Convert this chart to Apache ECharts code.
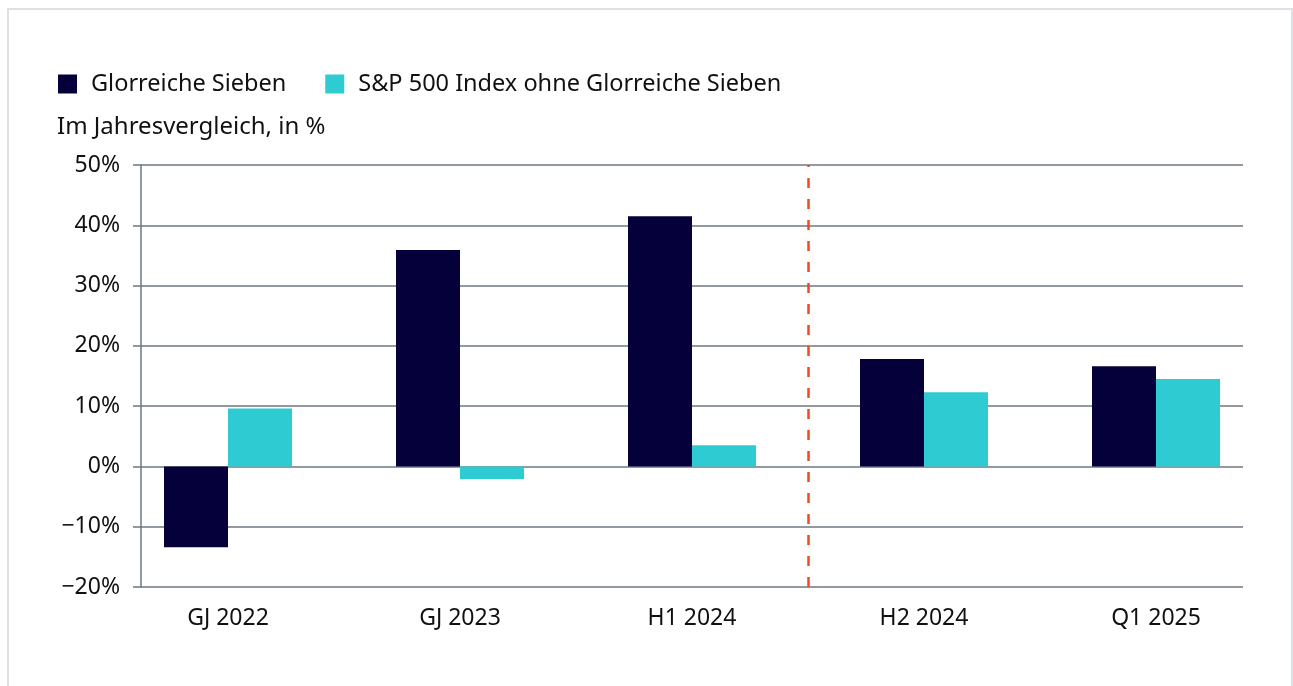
<!DOCTYPE html>
<html>
<head>
<meta charset="utf-8">
<script src="https://cdn.jsdelivr.net/npm/echarts@6/dist/echarts.min.js"></script>
<style>
  html, body { margin: 0; padding: 0; background: #fff; }
  #chart { width: 1293px; height: 686px; }
</style>
</head>
<body>
<div id="chart"></div>
<script>
var categories = ['GJ 2022', 'GJ 2023', 'H1 2024', 'H2 2024', 'Q1 2025']
var seriesNames = ['Glorreiche Sieben', 'S&P 500 Index ohne Glorreiche Sieben']
var mag7 = [-13.4, 35.9, 41.5, 17.8, 16.6]
var rest = [9.6, -2.1, 3.5, 12.3, 14.5]
var yMin = -20
var yMax = 50
var yStep = 10
var dividerAt = 3 // Grenze zwischen H1 2024 und H2 2024

var font = 'Noto Sans'
var textColor = '#111111'
var gridColor = '#6e7782'

var chart = echarts.init(document.getElementById('chart'))

function pct(v) {
	return v < 0 ? '\u2212' + Math.abs(v) + '%' : v + '%'
}

var option = {
	animation: false,
	textStyle: { fontFamily: font },
	graphic: [{
		type: 'rect',
		shape: { x: 8, y: 9, width: 1284, height: 700 },
		style: { fill: 'none', stroke: '#dde1e5', lineWidth: 2 },
		silent: true
	}],
	title: {
		text: 'Im Jahresvergleich, in %',
		left: 57,
		top: 115,
		padding: 0,
		textStyle: { fontFamily: font, fontSize: 24, fontWeight: 'normal', color: textColor }
	},
	legend: {
		left: 58,
		top: 72,
		padding: 0,
		itemWidth: 19,
		itemHeight: 19,
		itemGap: 39,
		icon: 'rect',
		data: seriesNames,
		textStyle: { fontFamily: font, fontSize: 23.5, color: textColor, padding: [0, 0, 0, 9] }
	},
	grid: [
		{ left: 112, right: 21, top: 165, bottom: 99 },
		{ left: 141, right: 50, top: 165, bottom: 99 }
	],
	xAxis: [{
		type: 'category',
		gridIndex: 0,
		data: categories,
		axisLine: { show: false },
		axisTick: { show: false },
		axisLabel: { fontFamily: font, fontSize: 23, color: textColor, margin: 20 }
	}, {
		type: 'value',
		gridIndex: 0,
		min: 0,
		max: categories.length,
		show: false
	}, {
		type: 'value',
		gridIndex: 1,
		show: false
	}],
	yAxis: [{
		type: 'value',
		gridIndex: 0,
		min: yMin,
		max: yMax,
		interval: yStep,
		show: false
	}, {
		type: 'value',
		gridIndex: 1,
		min: yMin,
		max: yMax,
		interval: yStep,
		axisLine: { show: true, lineStyle: { color: gridColor, width: 1.5 } },
		axisTick: { show: true, length: 8, lineStyle: { color: gridColor, width: 1.5 } },
		splitLine: { show: true, lineStyle: { color: gridColor, width: 1.5 } },
		axisLabel: { fontFamily: font, fontSize: 23, color: textColor, margin: 21, formatter: pct }
	}],
	series: [{
		name: seriesNames[0],
		type: 'bar',
		xAxisIndex: 0,
		yAxisIndex: 0,
		data: mag7,
		barWidth: 64,
		barGap: '0%',
		itemStyle: { color: '#05003a' }
	}, {
		name: seriesNames[1],
		type: 'bar',
		xAxisIndex: 0,
		yAxisIndex: 0,
		data: rest,
		barWidth: 64,
		barGap: '0%',
		itemStyle: { color: '#2ecbd3' }
	}, {
		type: 'line',
		xAxisIndex: 1,
		yAxisIndex: 0,
		data: [],
		markLine: {
			silent: true,
			symbol: 'none',
			label: { show: false },
			lineStyle: { color: '#f04a22', type: [10, 11], width: 2.5 },
			data: [{ xAxis: dividerAt }]
		}
	}]
}

chart.setOption(option)
</script>
</body>
</html>
